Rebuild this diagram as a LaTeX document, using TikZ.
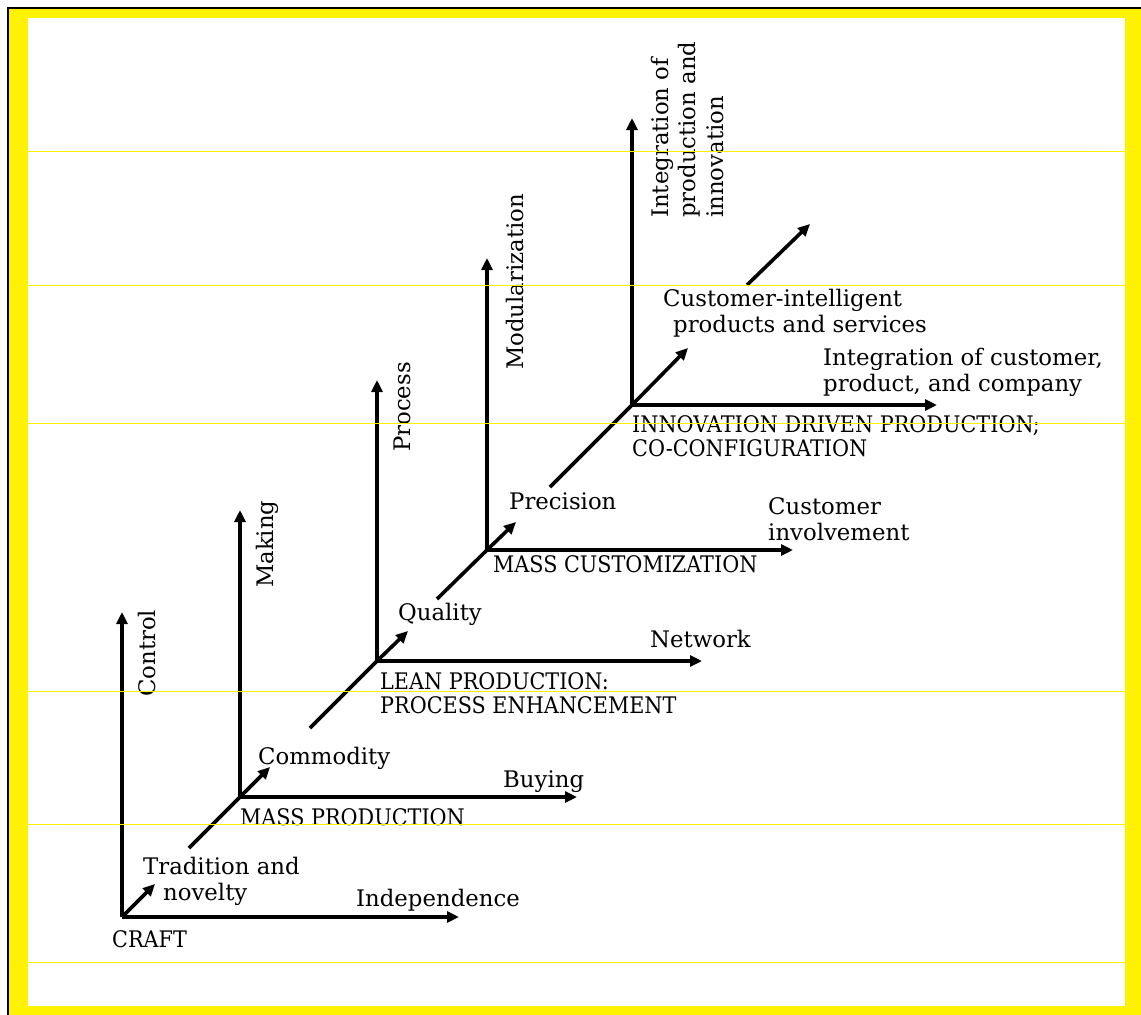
\documentclass[tikz,border=0pt]{standalone}
\usepackage{fontspec}
\setmainfont{DejaVu Serif}
\newfontfamily\capsfont[FakeStretch=0.91]{DejaVu Serif}
\usetikzlibrary{arrows.meta}
\begin{document}
\begin{tikzpicture}[x=1pt,y=-1pt,
  axis/.style={line width=3.6pt,-{Triangle[length=12pt,width=11pt]}},
  bare/.style={line width=3.6pt},
  lbl/.style={inner sep=0pt,anchor=base west,align=left,font=\fontsize{22.8}{26}\selectfont},
  caps/.style={lbl,font=\fontsize{22.8}{24}\selectfont\capsfont},
  vlbl/.style={lbl,rotate=90,font=\fontsize{22.8}{27.5}\selectfont},
  gridline/.style={yellow,line width=1pt}]
\useasboundingbox (0,0) rectangle (1141,1015);
% frame
\fill[white] (0,0) rectangle (1141,1015);
\fill[yellow] (8,8) rectangle (1141,1015);
\fill[white] (28,18) rectangle (1125,1006);
\draw[line width=2.5pt] (8,1015) -- (8,8) -- (1141,8);

% coordinates
\coordinate (o1) at (122,917);
\coordinate (o1u) at (122,612);
\coordinate (o1r) at (459,917);
\coordinate (o1d) at (155,884);

\coordinate (o2) at (240,797);
\coordinate (o2u) at (240,510);
\coordinate (o2r) at (577,797);
\coordinate (o2d) at (270,767);
\coordinate (o2s) at (189,848);

\coordinate (o3) at (377,661);
\coordinate (o3u) at (377,380);
\coordinate (o3r) at (702,661);
\coordinate (o3d) at (408,631);
\coordinate (o3s) at (310,728);

\coordinate (o4) at (487,550);
\coordinate (o4u) at (487,258);
\coordinate (o4r) at (793,550);
\coordinate (o4d) at (516,522);
\coordinate (o4s) at (437,599);

\coordinate (o5) at (632,405);
\coordinate (o5u) at (632,118);
\coordinate (o5r) at (937,405);
\coordinate (o5d) at (688,348);
\coordinate (o5s) at (550,487);
\coordinate (o5a) at (747,285);
\coordinate (o5b) at (810,224);

% axes
\draw[axis] (o1) -- (o1u);
\draw[axis] (o1) -- (o1r);
\draw[axis] (o1) -- (o1d);

\draw[bare] (o2s) -- (o2);
\draw[axis] (o2) -- (o2u);
\draw[axis] (o2) -- (o2r);
\draw[axis] (o2) -- (o2d);

\draw[bare] (o3s) -- (o3);
\draw[axis] (o3) -- (o3u);
\draw[axis] (o3) -- (o3r);
\draw[axis] (o3) -- (o3d);

\draw[bare] (o4s) -- (o4);
\draw[axis] (o4) -- (o4u);
\draw[axis] (o4) -- (o4r);
\draw[axis] (o4) -- (o4d);

\draw[bare] (o5s) -- (o5);
\draw[axis] (o5) -- (o5u);
\draw[axis] (o5) -- (o5r);
\draw[axis] (o5) -- (o5d);
\draw[axis] (o5a) -- (o5b);

% labels (multi-line nodes: base = baseline of last line)
\node[vlbl] (control) at (155,697) {Control};
\node[lbl] (trad) at (143,900) {Tradition and\\\hspace*{20pt}novelty};
\node[lbl] (indep) at (356,906) {Independence};
\node[caps] (craft) at (112,947) {CRAFT};

\node[vlbl] (making) at (273,588) {Making};
\node[lbl] (commod) at (258,764) {Commodity};
\node[lbl] (buying) at (503,787) {Buying};
\node[caps] (massprod) at (240,825) {MASS PRODUCTION};

\node[vlbl] (process) at (410,452) {Process};
\node[lbl] (quality) at (398,620) {Quality};
\node[lbl] (network) at (650,647) {Network};
\node[caps] (lean) at (380,713) {LEAN PRODUCTION:\\PROCESS ENHANCEMENT};

\node[vlbl] (modul) at (523,370) {Modularization};
\node[lbl] (precision) at (509,509) {Precision};
\node[lbl] (custinv) at (768,540) {Customer\\involvement};
\node[caps] (masscust) at (493,572) {MASS CUSTOMIZATION};

\node[vlbl] (integ) at (723,218) {Integration of\\production and\\innovation};
\node[lbl] (custint) at (663,332) {Customer-intelligent\\\hspace*{10pt}products and services};
\node[lbl] (integcust) at (823,391) {Integration of customer,\\product, and company};
\node[caps] (innov) at (632,456) {INNOVATION DRIVEN PRODUCTION;\\CO-CONFIGURATION};

% thin guide lines
\foreach \yy in {151,285,423,691,824,962}
  \draw[gridline] (28,\yy) -- (1125,\yy);
\end{tikzpicture}
\end{document}
